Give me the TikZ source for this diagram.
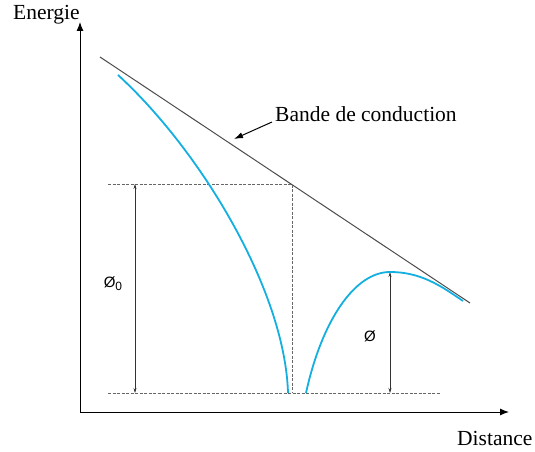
\documentclass[tikz,border=0pt]{standalone}
\usepackage{fontspec}
\setmainfont{Liberation Serif}
\newfontfamily\sansf{Liberation Sans}
\usetikzlibrary{arrows.meta}
\definecolor{curveblue}{RGB}{20,175,225}
\begin{document}
\begin{tikzpicture}[x=1pt,y=-1pt,
  axis/.style={line width=1pt,-{Latex[length=9pt,width=7pt]}},
  guide/.style={gray!80!black,dashed,dash pattern=on 3pt off 1.5pt,line width=0.6pt},
  dim/.style={line width=0.6pt,black!80,{Stealth[length=5pt,width=3pt]}-{Stealth[length=5pt,width=3pt]}},
  curve/.style={curveblue,line width=1.8pt},
  lbl/.style={inner sep=0pt,font=\fontsize{21.5}{21.5}\selectfont},
  slbl/.style={inner sep=0pt,font=\sansf\fontsize{15}{15}\selectfont}]
\useasboundingbox (0,0) rectangle (535,452);
% axes
\coordinate (O) at (80,412);
\coordinate (Ytop) at (80,22);
\coordinate (Xend) at (509,412);
\draw[axis] (O) -- (Ytop);
\draw[axis] (O) -- (Xend);
\node[lbl,anchor=base west] (energie) at (13,20) {Energie};
\node[lbl,anchor=base west] (distance) at (457,445) {Distance};
% conduction band
\coordinate (cb1) at (100,57);
\coordinate (cb2) at (470,303);
\draw[line width=1pt,black!70] (cb1) -- (cb2);
\node[lbl,anchor=base west] (bande) at (275,121) {Bande de conduction};
\coordinate (bandtip) at (234,139);
\draw[line width=1pt,-{Latex[length=9pt,width=6pt]}] (272,122) -- (bandtip);
% guides
\coordinate (g1) at (108,184);
\coordinate (g2) at (292,184);
\coordinate (g3) at (292,393);
\coordinate (g4) at (108,393);
\coordinate (g5) at (440,393);
\draw[guide] (g1) -- (g2) -- (g3);
\draw[guide] (g4) -- (g5);
% dimension arrows
\coordinate (d0a) at (135,184);
\coordinate (d0b) at (135,393);
\draw[dim] (d0a) -- (d0b);
\node[slbl] (phi0) at (113,284) {Ø\raisebox{-3pt}{\fontsize{12}{12}\selectfont 0}};
\coordinate (da) at (390,272);
\coordinate (db) at (390,393);
\draw[dim] (da) -- (db);
\node[slbl] (phi) at (370,336) {Ø};
% curves
\coordinate (c1s) at (118,75);
\coordinate (c1e) at (288,393);
\draw[curve] (c1s) .. controls (200,150) and (285,290) .. (c1e);
\coordinate (c2s) at (306,393);
\coordinate (peak) at (390,272);
\coordinate (c2e) at (463,301);
\draw[curve] (c2s) .. controls (322,320) and (355,272) .. (peak)
  .. controls (420,272) and (440,285) .. (c2e);
\end{tikzpicture}
\end{document}
